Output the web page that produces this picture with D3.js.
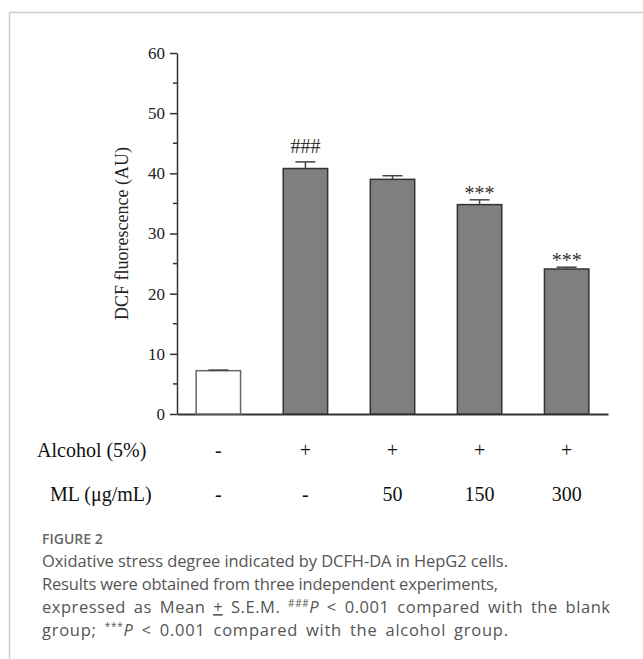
<!DOCTYPE html>
<html lang="en">
<head>
<meta charset="UTF-8">
<title>DCF fluorescence</title>
<script src="https://d3js.org/d3.v7.min.js"></script>
<style>
  body { margin: 0; background: #fff; }
  svg { display: block; }
</style>
</head>
<body>
<svg width="643" height="659"></svg>
<script>
// data
const groups = ['blank', 'alcohol', 'ml50', 'ml150', 'ml300'];
const means = [7.2, 40.8, 39.0, 34.8, 24.1];
const sems = [0.1, 1.1, 0.6, 0.8, 0.3];
const marks = ['', '###', '', '***', '***'];
const alcoholRow = ['-', '+', '+', '+', '+'];
const mlRow = ['-', '-', '50', '150', '300'];
const yTicks = [0, 10, 20, 30, 40, 50, 60];
const yMinor = [5, 15, 25, 35, 45, 55];
const captionLines = [
  'Oxidative stress degree indicated by DCFH-DA in HepG2 cells.',
  'Results were obtained from three independent experiments,'
];

const svg = d3.select('svg');
const serif = "'Liberation Serif', 'Times New Roman', serif";
const sans = "'Open Sans', 'Noto Sans', sans-serif";

// frame of the figure box
svg.append('line').attr('x1', 9).attr('x2', 643).attr('y1', 12.5).attr('y2', 12.5)
  .attr('stroke', '#cfcfcf').attr('stroke-width', 1.5);
svg.append('line').attr('x1', 9.5).attr('x2', 9.5).attr('y1', 12).attr('y2', 659)
  .attr('stroke', '#cfcfcf').attr('stroke-width', 1.5);

const plotL = 177, plotR = 608, plotT = 53, plotB = 414;

const x = d3.scaleBand()
  .domain(groups)
  .range([plotL, plotR])
  .paddingInner(0.49)
  .paddingOuter(0.22);

const y = d3.scaleLinear()
  .domain([0, 60])
  .range([plotB, plotT]);

const g = svg.append('g');

// y axis
const yAxis = g.append('g')
  .attr('transform', `translate(${plotL},0)`)
  .call(d3.axisLeft(y).tickValues(yTicks).tickSize(7).tickSizeOuter(0).tickPadding(5));
yAxis.select('.domain').attr('stroke', '#333').attr('stroke-width', 1.5);
yAxis.selectAll('.tick line').attr('stroke', '#333').attr('stroke-width', 1.5);
yAxis.selectAll('.tick text')
  .attr('font-family', serif).attr('font-size', 17).attr('fill', '#222');

g.append('g')
  .attr('transform', `translate(${plotL},0)`)
  .selectAll('line')
  .data(yMinor)
  .join('line')
  .attr('x1', -4).attr('x2', 0)
  .attr('y1', d => y(d)).attr('y2', d => y(d))
  .attr('stroke', '#333').attr('stroke-width', 1.5);

// x axis
const xAxis = g.append('g')
  .attr('transform', `translate(0,${plotB})`)
  .call(d3.axisBottom(x).tickSize(0).tickSizeOuter(0).tickFormat(''));
xAxis.select('.domain').attr('stroke', '#333').attr('stroke-width', 1.8);

// y label
g.append('text')
  .attr('transform', `translate(128,${(plotT + plotB) / 2}) rotate(-90)`)
  .attr('text-anchor', 'middle')
  .attr('font-family', serif)
  .attr('font-size', 18)
  .attr('fill', '#222')
  .text('DCF fluorescence (AU)');

// bars
g.selectAll('.bar')
  .data(means)
  .join('rect')
  .attr('class', 'bar')
  .attr('x', (d, i) => x(groups[i]))
  .attr('y', d => y(d))
  .attr('width', x.bandwidth())
  .attr('height', d => plotB - y(d))
  .attr('fill', (d, i) => i === 0 ? '#fff' : '#7f7f7f')
  .attr('stroke', (d, i) => i === 0 ? '#666' : '#333')
  .attr('stroke-width', 1.5);

// error bars (upper only)
const err = g.selectAll('.err')
  .data(means)
  .join('g')
  .attr('class', 'err');
err.append('line')
  .attr('x1', (d, i) => x(groups[i]) + x.bandwidth() / 2)
  .attr('x2', (d, i) => x(groups[i]) + x.bandwidth() / 2)
  .attr('y1', d => y(d))
  .attr('y2', (d, i) => y(d + sems[i]))
  .attr('stroke', '#444').attr('stroke-width', 1.5);
err.append('line')
  .attr('x1', (d, i) => x(groups[i]) + x.bandwidth() / 2 - 10)
  .attr('x2', (d, i) => x(groups[i]) + x.bandwidth() / 2 + 10)
  .attr('y1', (d, i) => y(d + sems[i]))
  .attr('y2', (d, i) => y(d + sems[i]))
  .attr('stroke', '#444').attr('stroke-width', 1.5);

// significance marks
g.selectAll('.mark')
  .data(means)
  .join('text')
  .attr('class', 'mark')
  .attr('x', (d, i) => x(groups[i]) + x.bandwidth() / 2)
  .attr('y', (d, i) => y(d + sems[i]) - (marks[i] === '###' ? 9 : 0))
  .attr('text-anchor', 'middle')
  .attr('font-family', serif)
  .attr('font-size', 20)
  .attr('fill', '#333')
  .text((d, i) => marks[i]);

// treatment rows
const rows = [
  { label: 'Alcohol (5%)', vals: alcoholRow, y: 457, lx: 37 },
  { label: 'ML (\u03bcg/mL)', vals: mlRow, y: 501, lx: 50 }
];
rows.forEach(r => {
  g.append('text')
    .attr('x', r.lx).attr('y', r.y)
    .attr('font-family', serif).attr('font-size', 20).attr('fill', '#111')
    .text(r.label);
  g.selectAll(null)
    .data(r.vals)
    .join('text')
    .attr('x', (d, i) => x(groups[i]) + x.bandwidth() / 2)
    .attr('y', r.y)
    .attr('text-anchor', 'middle')
    .attr('font-family', serif).attr('font-size', 20).attr('fill', '#111')
    .text(d => d);
});

// caption
const cap = svg.append('g').attr('font-family', sans).attr('fill', '#555');
cap.append('text')
  .attr('x', 42).attr('y', 544)
  .attr('font-size', 14).attr('font-weight', 600).attr('fill', '#666')
  .text('FIGURE 2');

const capY = [567, 590, 613, 636];
const capLen = [466, 456, 568, 466];
const capSize = 16.5;
[0, 1].forEach(i => {
  cap.append('text').attr('x', 42).attr('y', capY[i]).attr('font-size', capSize)
    .attr('textLength', capLen[i]).attr('lengthAdjust', 'spacing')
    .text(captionLines[i]);
});

const l3 = cap.append('text').attr('x', 42).attr('y', capY[2]).attr('font-size', capSize)
  .style('word-spacing', '3px')
  .attr('textLength', capLen[2]).attr('lengthAdjust', 'spacing');
l3.append('tspan').text('expressed as Mean ');
l3.append('tspan').attr('text-decoration', 'underline').text('+');
l3.append('tspan').text(' S.E.M. ');
l3.append('tspan').attr('font-size', 10).attr('dy', -6).text('###');
l3.append('tspan').attr('dy', 6).attr('font-style', 'italic').text('P');
l3.append('tspan').text(' < 0.001 compared with the blank');

const l4 = cap.append('text').attr('x', 42).attr('y', capY[3]).attr('font-size', capSize)
  .style('word-spacing', '3px')
  .attr('textLength', capLen[3]).attr('lengthAdjust', 'spacing');
l4.append('tspan').text('group; ');
l4.append('tspan').attr('font-size', 10).attr('dy', -6).text('***');
l4.append('tspan').attr('dy', 6).attr('font-style', 'italic').text('P');
l4.append('tspan').text(' < 0.001 compared with the alcohol group.');
</script>
</body>
</html>
